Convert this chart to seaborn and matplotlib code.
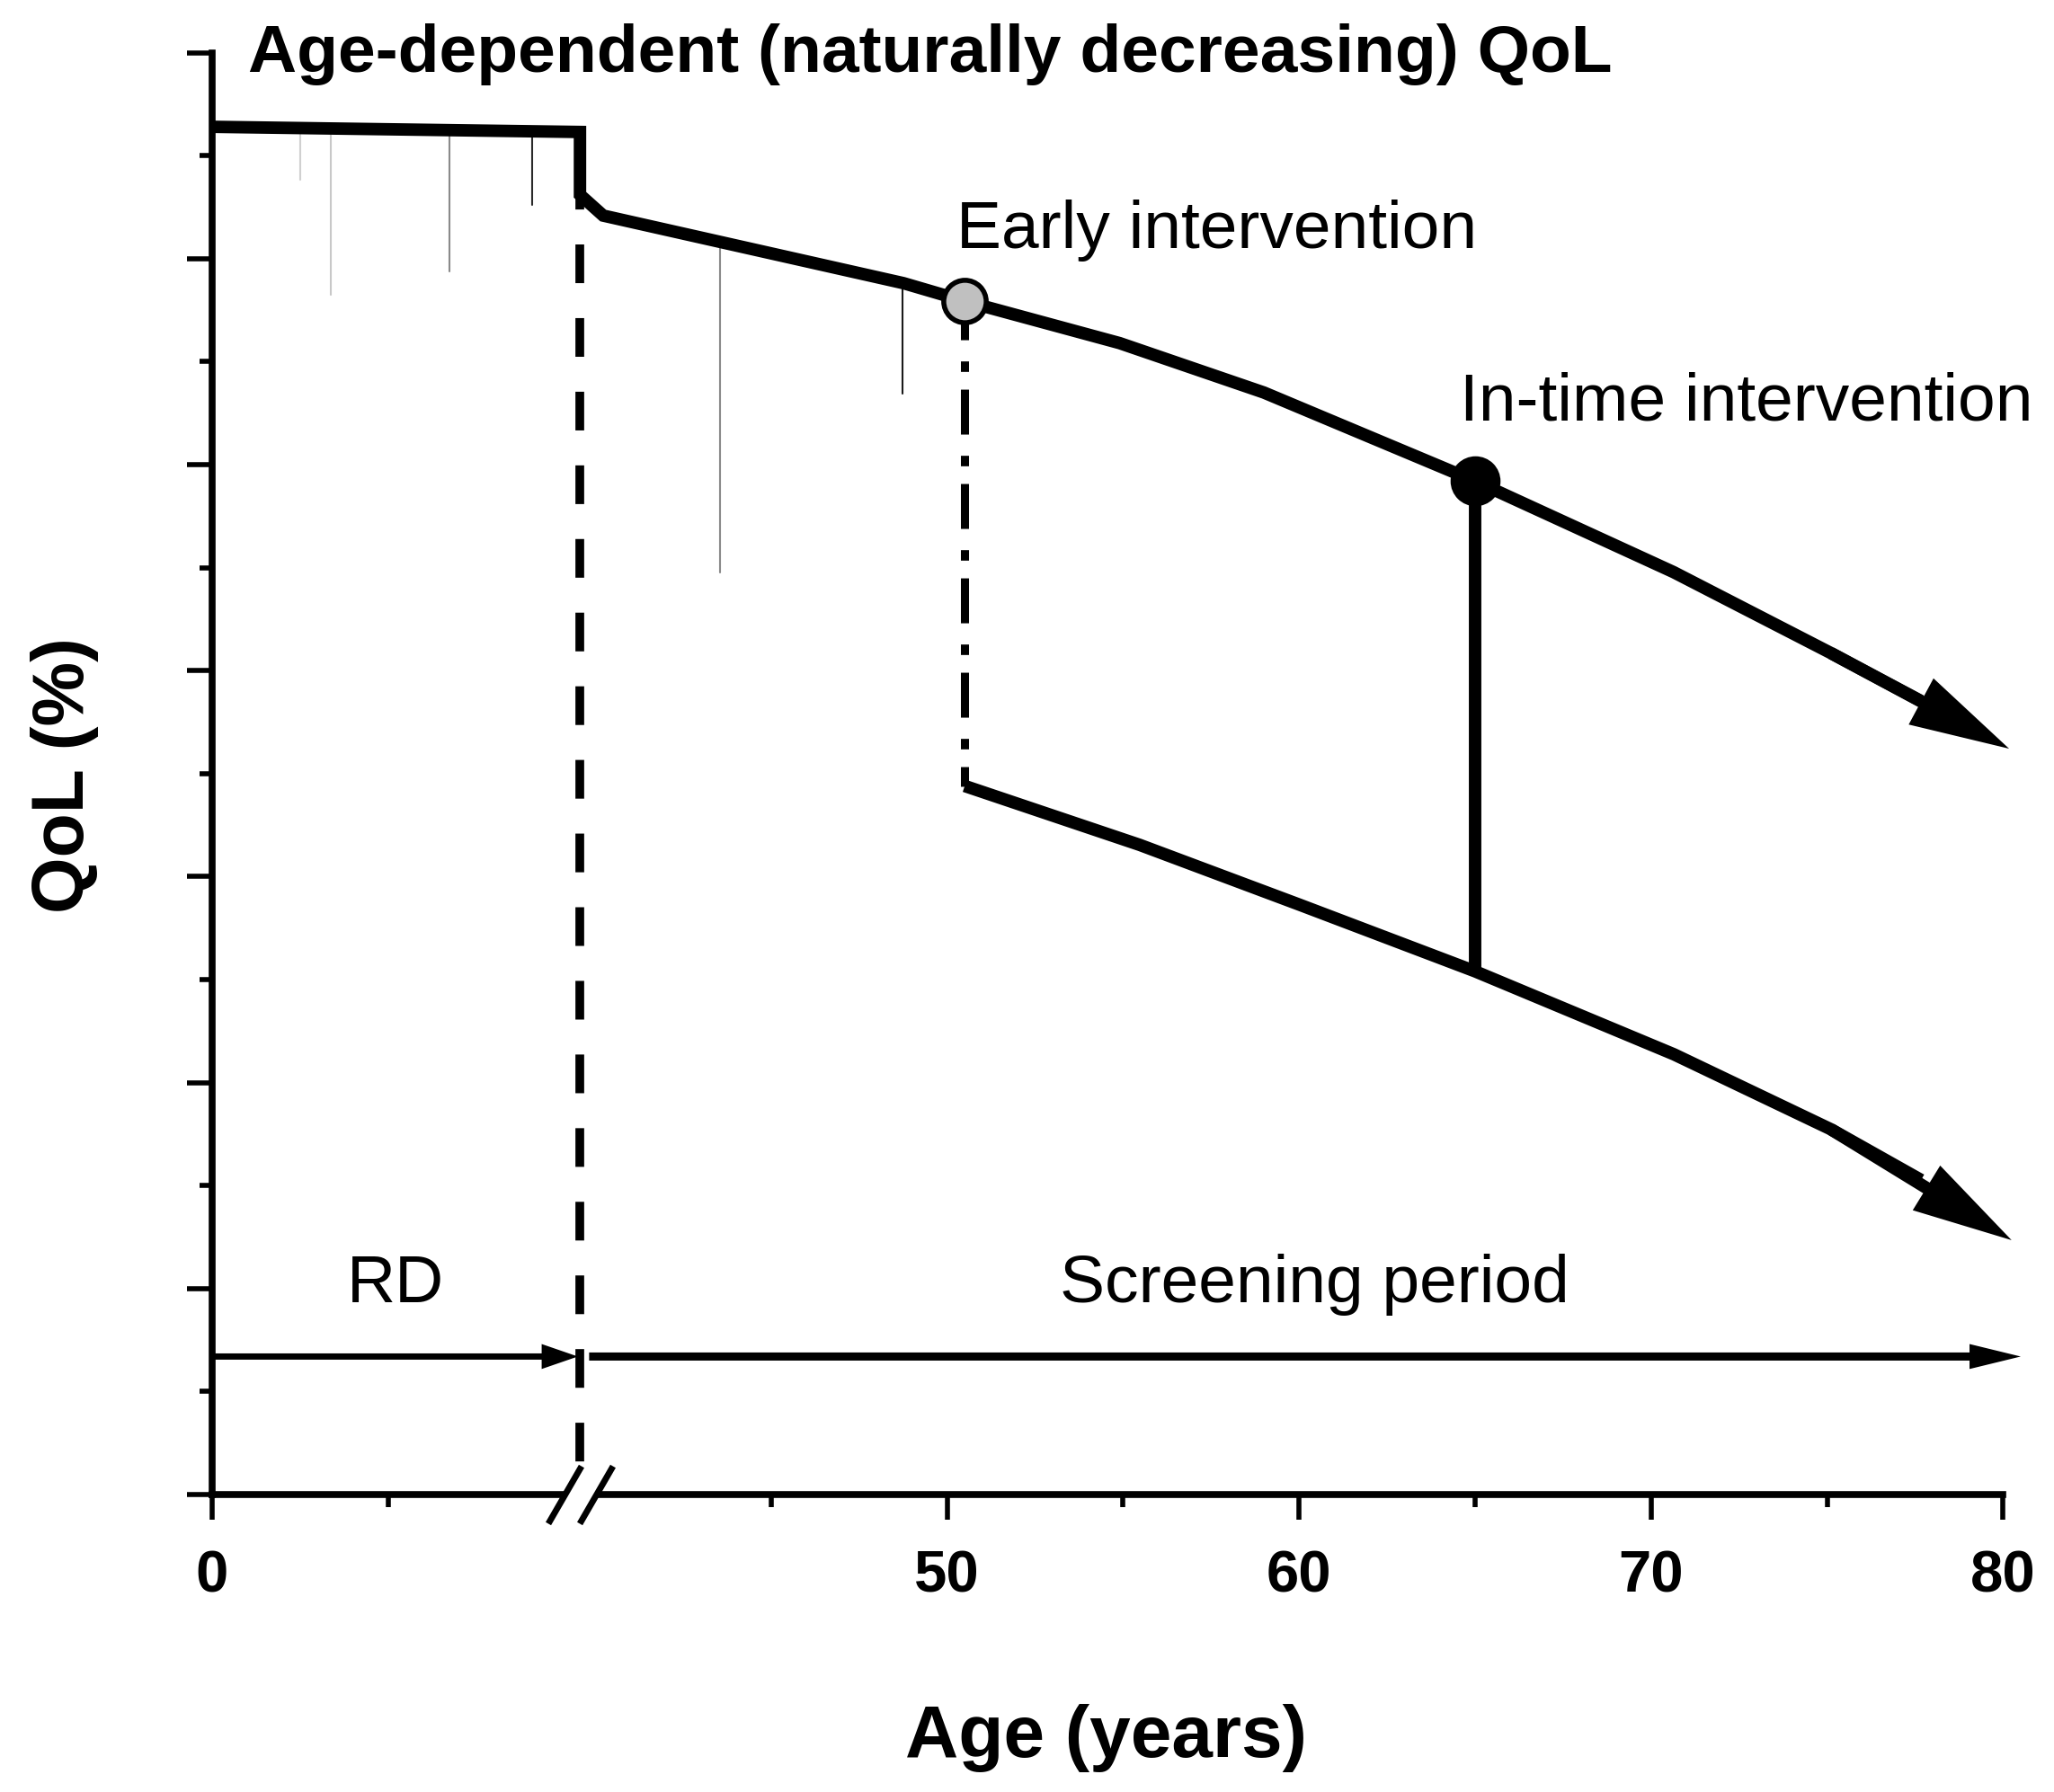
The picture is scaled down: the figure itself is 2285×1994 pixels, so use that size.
import numpy as np
import pandas as pd
import matplotlib
matplotlib.use("Agg")
import matplotlib.pyplot as plt
from matplotlib.ticker import FixedLocator, MultipleLocator
import seaborn as sns

# ---------------- data ----------------
break_left_age = 10.45    # last age drawn before the axis break
break_right_age = 39.57   # first age drawn after the axis break

natural_age = [0.0, 10.45, 39.57, 40.23, 48.76, 50.5, 54.9, 59.0, 65.0, 70.64, 75.11, 77.66]
natural_qol = [66.4, 66.15, 63.1, 62.09, 58.81, 57.94, 55.9, 53.5, 49.2, 44.78, 40.85, 38.53]
natural_tip = (80.17, 36.21)

disease_age = [50.5, 55.47, 60.02, 65.0, 70.65, 75.11, 77.67]
disease_qol = [34.4, 31.54, 28.63, 25.4, 21.37, 17.73, 15.27]
disease_tip = (80.24, 12.35)

early_age, early_top, early_bottom = 50.5, 57.94, 34.4
intime_age, intime_top, intime_bottom = 65.0, 49.2, 25.4

period_level = 6.7
rd_start, rd_end = 0.0, 10.39
screen_start, screen_end = 39.83, 80.5

artifact_age = [2.50, 3.36, 6.75, 9.08, 43.54, 48.74]
artifact_top = [66.3, 66.3, 66.25, 66.2, 60.9, 58.8]
artifact_bottom = [63.83, 58.25, 59.38, 62.61, 44.78, 53.45]
artifact_grey = ["#d0d0d0", "#c8c8c8", "#8a8a8a", "#2a2a2a", "#8a8a8a", "#1a1a1a"]

break_mark_age = [10.0, 40.02]

x_major = [0, 50, 60, 70, 80]
x_major_labels = ["0", "50", "60", "70", "80"]
x_minor = [5, 45, 55, 65, 75]

# ---------------- style ----------------
sns.set_theme(style="ticks")
plt.rcParams["font.family"] = ["Liberation Sans", "DejaVu Sans"]
plt.rcParams["lines.scale_dashes"] = False
for key in ["text.color", "axes.labelcolor", "xtick.color", "ytick.color", "axes.edgecolor"]:
    plt.rcParams[key] = "black"

fig = plt.figure(figsize=(22.85, 19.94), dpi=100)
ax = fig.add_axes([0.10328, 0.16600, 0.87195, 0.80461])

gap = break_right_age - break_left_age


def fwd(a):
    a = np.asarray(a, dtype=float)
    return np.where(a <= break_left_age, a,
                    np.where(a >= break_right_age, a - gap, break_left_age))


def inv(u):
    u = np.asarray(u, dtype=float)
    return np.where(u <= break_left_age, u, u + gap)


ax.set_xscale("function", functions=(fwd, inv))

MAIN_LW = 10

# thin grey remnants
for xa, yt, yb, c in zip(artifact_age, artifact_top, artifact_bottom, artifact_grey):
    ax.plot([xa, xa], [yt, yb], color=c, lw=1.5, zorder=1)

# dashed line at break
ax.plot([break_left_age, break_left_age], [natural_qol[1], 0], color="black", lw=7,
        ls=(28, (31, 28)), dash_capstyle="butt", zorder=2, clip_on=False)

# curves
df_nat = pd.DataFrame({"age": natural_age, "qol": natural_qol})
sns.lineplot(data=df_nat, x="age", y="qol", ax=ax, color="black", lw=MAIN_LW,
             sort=False, estimator=None, solid_joinstyle="miter",
             solid_capstyle="butt", zorder=3)
df_dis = pd.DataFrame({"age": disease_age, "qol": disease_qol})
sns.lineplot(data=df_dis, x="age", y="qol", ax=ax, color="black", lw=MAIN_LW,
             sort=False, estimator=None, solid_joinstyle="miter",
             solid_capstyle="butt", zorder=3)


def arrow(x0, y0, x1, y1, hl, hw, tw):
    ax.annotate("", xy=(x1, y1), xytext=(x0, y0), xycoords="data", textcoords="data",
                annotation_clip=False,
                arrowprops=dict(arrowstyle=f"simple,head_length={hl},head_width={hw},tail_width={tw}",
                                mutation_scale=1, color="black", lw=0, shrinkA=0, shrinkB=0))


arrow(natural_age[-2], natural_qol[-2], natural_tip[0], natural_tip[1], 80, 42, MAIN_LW)
arrow(disease_age[-2], disease_qol[-2], disease_tip[0], disease_tip[1], 80, 42, MAIN_LW)

# intervention connectors
ax.plot([early_age, early_age], [early_top, early_bottom], color="black", lw=6.5,
        ls=(5, (36, 17, 8.4, 14.2)), dash_capstyle="butt", zorder=2)
ax.plot([intime_age, intime_age], [intime_top, intime_bottom], color="black", lw=MAIN_LW,
        solid_capstyle="butt", zorder=3)

sns.scatterplot(x=[early_age], y=[early_top], s=34 ** 2, color="#c0c0c0",
                edgecolor="black", linewidth=4, zorder=5, ax=ax)
sns.scatterplot(x=[intime_age], y=[intime_top], s=37 ** 2, color="black",
                edgecolor="black", linewidth=3, zorder=5, ax=ax)

# period arrows
arrow(rd_start, period_level, rd_end, period_level, 29, 20, 5)
arrow(screen_start, period_level, screen_end, period_level, 41, 20, 6.5)

# axes
ax.set_xlim(0, 80)
ax.set_ylim(0, 70)
ax.set_xlabel("")
ax.set_ylabel("")
ax.xaxis.set_major_locator(FixedLocator(x_major))
ax.xaxis.set_minor_locator(FixedLocator(x_minor))
ax.set_xticklabels(x_major_labels, fontsize=47, fontweight="bold", color="black")
ax.yaxis.set_major_locator(MultipleLocator(10))
ax.yaxis.set_minor_locator(MultipleLocator(5))
ax.set_yticklabels([])
ax.tick_params(which="major", length=20, width=4, color="black", direction="out")
ax.tick_params(which="minor", length=10, width=4, color="black", direction="out")
ax.tick_params(axis="x", which="major", pad=24, labelcolor="black")
for side in ["top", "right"]:
    ax.spines[side].set_visible(False)
for side in ["left", "bottom"]:
    ax.spines[side].set_linewidth(5.5)
    ax.spines[side].set_color("black")

# axis break marks
ax.plot(break_mark_age, [0, 0], color="white", lw=9, solid_capstyle="butt",
        zorder=4, clip_on=False)
ax.plot(break_mark_age, [0, 0], ls="none", marker=[(-18.5, -32), (18.5, 32)],
        ms=46, mew=5, color="black", zorder=5, clip_on=False)

# texts
fig.text(0.1208, 0.9599, "Age-dependent (naturally decreasing) QoL", fontsize=54,
         fontweight="bold", ha="left", va="baseline", color="black")
fig.text(0.4657, 0.8616, "Early intervention", fontsize=54, ha="left", va="baseline", color="black")
fig.text(0.7107, 0.7653, "In-time intervention", fontsize=54, ha="left", va="baseline", color="black")
fig.text(0.1689, 0.2732, "RD", fontsize=54, ha="left", va="baseline", color="black")
fig.text(0.5160, 0.2732, "Screening period", fontsize=54, ha="left", va="baseline", color="black")
fig.text(0.5387, 0.0195, "Age (years)", fontsize=59, fontweight="bold",
         ha="center", va="baseline", color="black")
fig.text(0.0407, 0.5673, "QoL (%)", fontsize=58, fontweight="bold", rotation=90,
         rotation_mode="anchor", ha="center", va="baseline", color="black")

fig.savefig("out.png", dpi=100)
